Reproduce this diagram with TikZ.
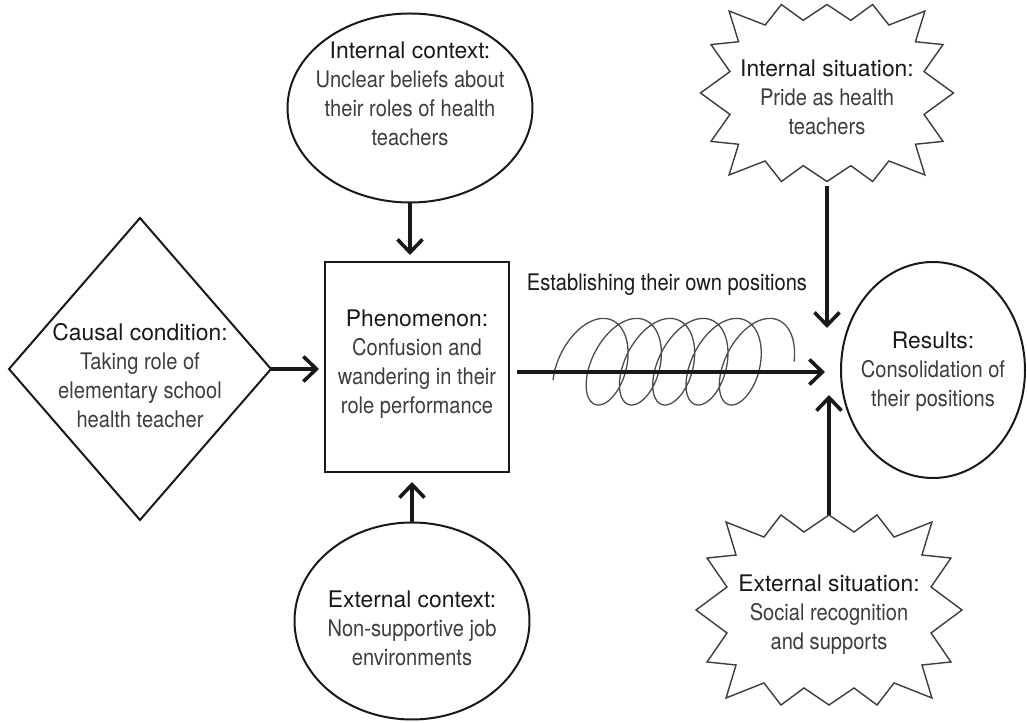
\documentclass[tikz,border=0pt]{standalone}
\usepackage{fontspec}
\setmainfont{TeX Gyre Heros}[FakeStretch=0.88]
\newfontfamily\headfont{TeX Gyre Heros}
\usepackage{tikz}
\usetikzlibrary{shapes.geometric,arrows.meta}
\definecolor{inkgray}{rgb}{0.1,0.1,0.1}
\definecolor{bodygray}{rgb}{0.24,0.24,0.24}
\definecolor{coilgray}{rgb}{0.3,0.3,0.3}
\newcommand{\nodetext}[3][0pt]{\smash{\makebox[0pt]{\raisebox{#1}{\color{bodygray}%
  \begin{tabular}{@{}c@{}}{\headfont\color{inkgray}#2}\\#3\end{tabular}}}}}
\newcommand{\burstoutline}[3]{%
  \begin{scope}[shift={(#1.center)}, x=#2, y=#3]
    \draw[burstline] (1,0) -- (.767,.242) -- (.917,.547) -- (.699,.579) -- (.774,.926)
      -- (.489,.768) -- (.361,1) -- (.188,.821) -- (0,1) -- (-.188,.821) -- (-.361,1)
      -- (-.489,.768) -- (-.774,.926) -- (-.699,.579) -- (-.917,.547) -- (-.767,.242)
      -- (-1,0) -- (-.767,-.242) -- (-.917,-.547) -- (-.699,-.579) -- (-.774,-.926)
      -- (-.489,-.768) -- (-.361,-1) -- (-.188,-.821) -- (0,-1) -- (.188,-.821)
      -- (.361,-1) -- (.489,-.768) -- (.774,-.926) -- (.699,-.579) -- (.917,-.547)
      -- (.767,-.242) -- cycle;
  \end{scope}}
\tikzset{
  shapeline/.style={draw=inkgray, line width=0.4mm, inner sep=0pt, outer sep=0pt},
  burst/.style={inner sep=0pt, outer sep=0pt},
  burstline/.style={draw=inkgray!85, line width=0.28mm, line join=miter},
  lbl/.style={text=inkgray, inner sep=0pt},
  arr/.style={-{Straight Barb[length=2.6mm,width=5mm]}, line width=0.72mm, draw=inkgray},
  coil/.style={draw=coilgray, line width=0.26mm}
}

\begin{document}
\begin{tikzpicture}[x=0.2mm, y=-0.2mm, font=\fontsize{13}{16.5}\selectfont]
\useasboundingbox (0,0) rectangle (1027,723);
\node[shapeline, diamond, minimum width=52.4mm, minimum height=60.4mm] (causal) at (140,369)
  {\nodetext[-8.5pt]{Causal condition:}{Taking role of\\elementary school\\health teacher}};
\node[shapeline, rectangle, minimum width=36.8mm, minimum height=42mm] (phen) at (417,367)
  {\nodetext[-1.5pt]{Phenomenon:}{Confusion and\\wandering in their\\role performance}};
\node[shapeline, ellipse, minimum width=49mm, minimum height=37.8mm] (intctx) at (410,108)
  {\nodetext[3.6pt]{Internal context:}{Unclear beliefs about\\their roles of health\\teachers}};
\node[shapeline, ellipse, minimum width=47mm, minimum height=39.4mm] (extctx) at (412,621)
  {\nodetext[-8.4pt]{External context:}{Non-supportive job\\environments}};
\node[shapeline, ellipse, minimum width=36.8mm, minimum height=43.2mm] (results) at (933,370)
  {\nodetext[-3.8pt]{Results:}{Consolidation of\\their positions}};
\node[burst, minimum width=50.6mm, minimum height=35.4mm] (intsit) at (827,93)
  {\nodetext[-6.7pt]{Internal situation:}{Pride as health\\teachers}};
\node[burst, minimum width=53.2mm, minimum height=38mm] (extsit) at (829,610)
  {\nodetext[-5.5pt]{External situation:}{Social recognition\\and supports}};
\burstoutline{intsit}{25.3mm}{17.7mm}
\burstoutline{extsit}{26.6mm}{19mm}
\node[lbl] (estab) at (667,285) {Establishing their own positions};
\coordinate (meet) at (825,372);
\coordinate (toptip) at (827,328);
\coordinate (bottip) at (830,395);
\draw[coil] plot[domain=-115:1890, samples=500]
  ({592.5+0.0925*\x+26.7*sin(\x)+10.8*cos(\x)}, {361.7-43.3*cos(\x)});
\draw[arr, shorten >=1.4mm] (intctx.south) -- (intctx.south |- phen.north);
\draw[arr, shorten >=2mm] (extctx.north) -- (extctx.north |- phen.south);
\draw[arr, shorten >=1.2mm] (causal.east) -- (causal.east -| phen.west);
\draw[arr, shorten <=1.6mm] (phen.east |- meet) -- (meet);
\draw[arr, shorten <=1mm] (intsit.south) -- (intsit.south |- toptip);
\draw[arr] (extsit.north) -- (extsit.north |- bottip);
\end{tikzpicture}
\end{document}
